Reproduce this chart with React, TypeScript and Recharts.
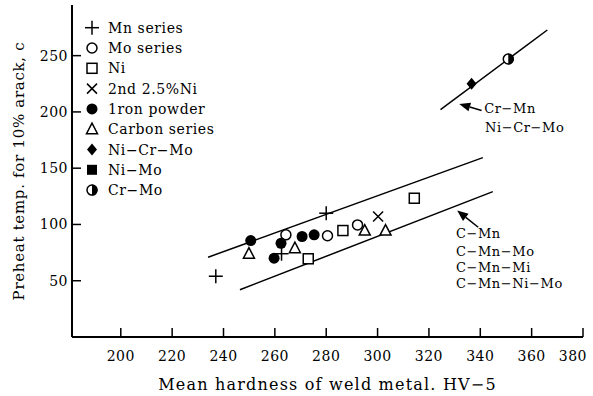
import React from 'react';
import {
  ScatterChart, Scatter, XAxis, YAxis, ReferenceLine, ReferenceDot, Legend, Label,
} from 'recharts';

// points (hardness HV-5, preheat temp)
const mnSeries = [{ x: 237, y: 54 }, { x: 262.6, y: 74 }, { x: 280, y: 110 }];
const moSeries = [{ x: 264.3, y: 90.8 }, { x: 280.5, y: 90 }, { x: 292.2, y: 99.6 }];
const niSeries = [{ x: 273, y: 69.5 }, { x: 286.5, y: 94.6 }, { x: 314.3, y: 123.3 }];
const ni25Series = [{ x: 300.2, y: 107 }];
const ironPowder = [
  { x: 250.6, y: 85.7 }, { x: 262.4, y: 83.3 }, { x: 259.7, y: 70 },
  { x: 270.6, y: 89.3 }, { x: 275.3, y: 90.8 },
];
const carbonSeries = [{ x: 249.9, y: 74 }, { x: 267.8, y: 78.9 }, { x: 295, y: 94.6 }, { x: 303.1, y: 94.6 }];
const niCrMo = [{ x: 336.6, y: 225 }];
const niMo: { x: number; y: number }[] = [];
const crMo = [{ x: 350.9, y: 247 }];

// band lines and arrows
const upperLine = [{ x: 234, y: 70.9 }, { x: 341, y: 159.4 }];
const lowerLine = [{ x: 246.4, y: 42 }, { x: 344.9, y: 129.2 }];
const highLine = [{ x: 324.5, y: 202 }, { x: 366.1, y: 272.8 }];
const arrowHigh = [{ x: 340.5, y: 201.2 }, { x: 331.8, y: 207.1 }];
const arrowLow = [{ x: 339.2, y: 97.5 }, { x: 331, y: 112.4 }];

const highNotes = [
  { x: 341.5, y: 203, text: 'Cr−Mn' },
  { x: 341.8, y: 186.3, text: 'Ni−Cr−Mo' },
];
const lowNotes = [
  { x: 330.5, y: 91.7, text: 'C−Mn' },
  { x: 330.5, y: 76, text: 'C−Mn−Mo' },
  { x: 330.5, y: 62, text: 'C−Mn−Mi' },
  { x: 330.5, y: 48, text: 'C−Mn−Ni−Mo' },
];

const xTicks = [200, 220, 240, 260, 280, 300, 320, 340, 360, 380];
const yTicks = [50, 100, 150, 200, 250];

const FONT = '"DejaVu Serif", serif';

const series = [
  { name: 'Mn series', kind: 'plus', data: mnSeries },
  { name: 'Mo series', kind: 'circle', data: moSeries },
  { name: 'Ni', kind: 'square', data: niSeries },
  { name: '2nd 2.5%Ni', kind: 'cross', data: ni25Series },
  { name: '1ron powder', kind: 'dot', data: ironPowder },
  { name: 'Carbon series', kind: 'triangle', data: carbonSeries },
  { name: 'Ni−Cr−Mo', kind: 'diamond', data: niCrMo },
  { name: 'Ni−Mo', kind: 'block', data: niMo },
  { name: 'Cr−Mo', kind: 'half', data: crMo },
];

function Mark({ kind, cx, cy }: { kind: string; cx: number; cy: number }) {
  const s = 1.5;
  switch (kind) {
    case 'plus':
      return <g stroke="#000" strokeWidth={s}><line x1={cx - 7} y1={cy} x2={cx + 7} y2={cy} /><line x1={cx} y1={cy - 7} x2={cx} y2={cy + 7} /></g>;
    case 'cross':
      return <g stroke="#000" strokeWidth={s}><line x1={cx - 5} y1={cy - 5} x2={cx + 5} y2={cy + 5} /><line x1={cx - 5} y1={cy + 5} x2={cx + 5} y2={cy - 5} /></g>;
    case 'circle':
      return <circle cx={cx} cy={cy} r={5} fill="#fff" stroke="#000" strokeWidth={s} />;
    case 'dot':
      return <circle cx={cx} cy={cy} r={5.5} fill="#000" />;
    case 'square':
      return <rect x={cx - 5} y={cy - 5} width={10} height={10} fill="#fff" stroke="#000" strokeWidth={s} />;
    case 'block':
      return <rect x={cx - 5} y={cy - 5} width={10} height={10} fill="#000" />;
    case 'triangle':
      return <polygon points={`${cx},${cy - 6} ${cx + 5.5},${cy + 4.5} ${cx - 5.5},${cy + 4.5}`} fill="#fff" stroke="#000" strokeWidth={s} />;
    case 'diamond':
      return <polygon points={`${cx},${cy - 6} ${cx + 5},${cy} ${cx},${cy + 6} ${cx - 5},${cy}`} fill="#000" />;
    case 'half':
      return (
        <g>
          <circle cx={cx} cy={cy} r={5} fill="#fff" stroke="#000" strokeWidth={s} />
          <path d={`M${cx},${cy - 5.5} A5.5,5.5 0 0 1 ${cx},${cy + 5.5} Z`} fill="#000" />
        </g>
      );
    default:
      return null;
  }
}

const LegendBox = () => (
  <svg width={160} height={190} style={{ display: 'block' }}>
    {series.map((s, i) => {
      const cy = 10.7 + i * 20.3;
      return (
        <g key={s.name}>
          <Mark kind={s.kind} cx={8} cy={cy} />
          <text x={24} y={cy} dy="0.36em" fontFamily={FONT} fontSize={14} letterSpacing={0.6} fill="#000">{s.name}</text>
        </g>
      );
    })}
  </svg>
);

const BottomTick = (p: any) => {
  const last = p.payload.value === 380;
  return (
    <g>
      <line x1={p.x} y1={p.y} x2={p.x} y2={p.y - 9} stroke="#000" strokeWidth={1.5} />
      <text x={last ? p.x + 4 : p.x} y={p.y + 19} dy="0.36em" textAnchor={last ? 'end' : 'middle'}
        fontFamily={FONT} fontSize={14} letterSpacing={0.5} fill="#000">{p.payload.value}</text>
    </g>
  );
};
const TopTick = (p: any) => (
  <line x1={p.x} y1={p.y} x2={p.x} y2={p.y + 9} stroke="#000" strokeWidth={1.5} />
);
const LeftTick = (p: any) => (
  <g>
    <line x1={p.x} y1={p.y} x2={p.x + 9} y2={p.y} stroke="#000" strokeWidth={1.5} />
    <text x={p.x - 4} y={p.y} dy="0.36em" textAnchor="end" fontFamily={FONT} fontSize={14} letterSpacing={0.5} fill="#000">{p.payload.value}</text>
  </g>
);
const RightTick = (p: any) => (
  <line x1={p.x} y1={p.y} x2={p.x - 9} y2={p.y} stroke="#000" strokeWidth={1.5} />
);

const Arrow = (p: any) => {
  const { x1, y1, x2, y2 } = p;
  const a = Math.atan2(y2 - y1, x2 - x1);
  const L = 11, W = 4.5;
  const bx = x2 - L * Math.cos(a), by = y2 - L * Math.sin(a);
  const px = -Math.sin(a) * W, py = Math.cos(a) * W;
  return (
    <g>
      <line x1={x1} y1={y1} x2={bx} y2={by} stroke="#000" strokeWidth={1.5} />
      <polygon points={`${x2},${y2} ${bx + px},${by + py} ${bx - px},${by - py}`} fill="#000" />
    </g>
  );
};

const noteShape = (text: string) => (p: any) => (
  <text x={p.cx} y={p.cy} dy="0.36em" fontFamily={FONT} fontSize={13} letterSpacing={0.6} fill="#000">{text}</text>
);

const seg = (pts: { x: number; y: number }[]) => pts.map((p) => ({ x: p.x, y: p.y }));

export default function App() {
  return (
    <div style={{ position: 'absolute', left: 0, top: 0, background: '#fff' }}>
      <ScatterChart width={593} height={396} margin={{ top: 5, right: 10, bottom: 0, left: 0 }}>
        <XAxis
          type="number" dataKey="x" domain={[181, 380]} ticks={xTicks} allowDataOverflow
          height={59} tickSize={0} tickMargin={0} tick={<BottomTick />} interval={0}
          axisLine={{ stroke: '#000', strokeWidth: 2 }}
        >
          <Label value="Mean hardness of weld metal. HV−5" position="insideBottom" offset={6}
            style={{ fontFamily: FONT, fontSize: 16, fill: '#000', letterSpacing: 1.2 }} />
        </XAxis>
        <XAxis
          xAxisId="top" orientation="top" type="number" domain={[181, 380]} ticks={xTicks} allowDataOverflow
          height={0} tickSize={0} tickMargin={0} tick={<TopTick />} interval={0}
          axisLine={{ stroke: '#000', strokeWidth: 2 }}
        />
        <YAxis
          type="number" dataKey="y" domain={[0, 295]} ticks={yTicks} allowDataOverflow
          width={72} tickSize={0} tickMargin={0} tick={<LeftTick />} interval={0}
          axisLine={{ stroke: '#000', strokeWidth: 2 }}
        >
          <Label value="Preheat temp. for 10% arack, c" angle={-90} position="insideLeft" offset={19}
            style={{ fontFamily: FONT, fontSize: 15, fill: '#000', letterSpacing: 0.7, textAnchor: 'middle' }} />
        </YAxis>
        <YAxis
          yAxisId="right" orientation="right" type="number" domain={[0, 295]} ticks={yTicks} allowDataOverflow
          width={0} tickSize={0} tickMargin={0} tick={<RightTick />} interval={0}
          axisLine={{ stroke: '#000', strokeWidth: 2 }}
        />

        <ReferenceLine segment={seg(upperLine)} stroke="#000" strokeWidth={1.5} />
        <ReferenceLine segment={seg(lowerLine)} stroke="#000" strokeWidth={1.5} />
        <ReferenceLine segment={seg(highLine)} stroke="#000" strokeWidth={1.5} />
        <ReferenceLine segment={seg(arrowHigh)} shape={Arrow} />
        <ReferenceLine segment={seg(arrowLow)} shape={Arrow} />

        {[...highNotes, ...lowNotes].map((n) => (
          <ReferenceDot key={n.text + n.y} x={n.x} y={n.y} r={0} shape={noteShape(n.text)} />
        ))}

        {series.map((s) => (
          <Scatter
            key={s.name}
            name={s.name}
            data={s.data}
            isAnimationActive={false}
            shape={(p: any) => <Mark kind={s.kind} cx={p.cx} cy={p.cy} />}
          />
        ))}

        <Legend
          layout="vertical"
          align="center"
          verticalAlign="middle"
          content={<LegendBox />}
          wrapperStyle={{ position: 'absolute', left: 84, top: 17, width: 160 }}
        />
      </ScatterChart>
    </div>
  );
}
